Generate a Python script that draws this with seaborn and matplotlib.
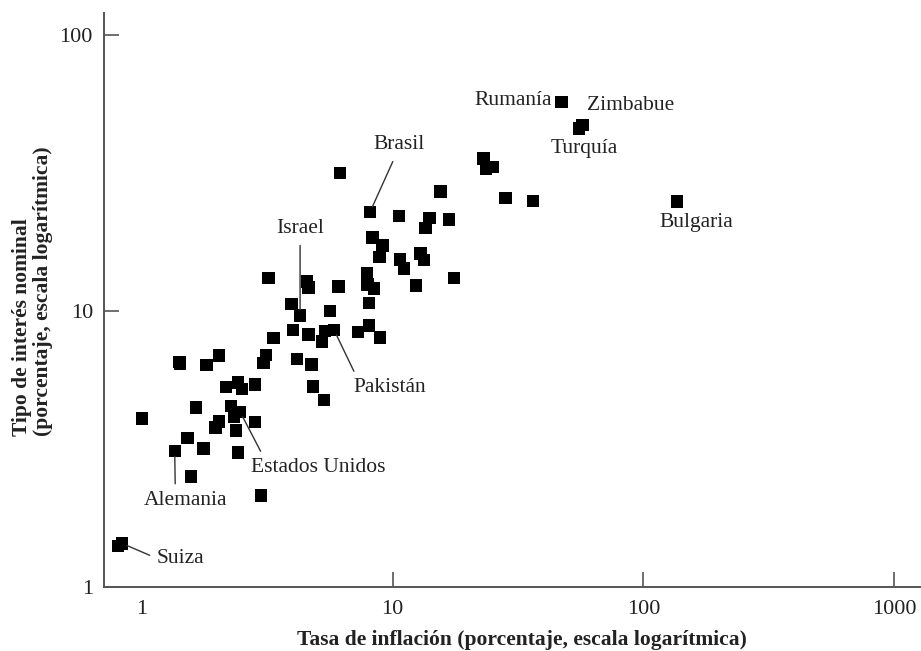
import matplotlib
matplotlib.use("Agg")
import matplotlib.pyplot as plt
import numpy as np
import pandas as pd
import seaborn as sns

# Inflation rate (%) and nominal interest rate (%), one entry per country
inflation = [0.80, 0.83, 1.00, 1.41, 1.42, 1.81, 2.03, 2.16, 2.42, 2.50,
             2.82, 1.64, 2.26, 2.46, 2.33, 2.03, 1.96, 2.37, 2.82, 1.52,
             1.35, 1.76, 2.42, 1.57, 2.98, 3.12, 3.05, 3.34, 4.14, 4.75,
             4.82, 5.32, 3.19, 4.56, 4.62, 6.07, 3.95, 4.27, 5.62, 4.01,
             4.62, 5.37, 5.21, 5.83, 7.25, 8.04, 8.90, 7.88, 7.92, 8.42,
             8.04, 8.32, 9.12, 8.84, 10.7, 11.1, 12.9, 13.3, 12.4, 17.6,
             6.16, 8.12, 10.6, 14.0, 13.5, 16.8, 15.5, 23.0, 25.0, 23.5,
             28.2, 36.2, 47.2, 57.1, 55.4, 136.0]
interest = [1.41, 1.44, 4.09, 6.53, 6.44, 6.39, 6.92, 5.30, 5.52, 5.23,
            5.42, 4.48, 4.54, 4.32, 4.15, 3.98, 3.79, 3.69, 3.97, 3.47,
            3.12, 3.18, 3.07, 2.52, 2.15, 6.94, 6.49, 8.01, 6.72, 6.40,
            5.33, 4.77, 13.2, 12.8, 12.2, 12.3, 10.6, 9.65, 10.0, 8.56,
            8.23, 8.46, 7.76, 8.56, 8.39, 8.87, 8.04, 13.7, 12.5, 12.1,
            10.7, 18.5, 17.3, 15.7, 15.4, 14.3, 16.2, 15.3, 12.4, 13.2,
            31.7, 22.9, 22.1, 21.8, 20.0, 21.5, 27.2, 35.8, 33.4, 32.9,
            25.7, 25.1, 57.3, 47.3, 46.0, 25.0]

# Labelled countries and the point they refer to
label_names = ["Suiza", "Alemania", "Estados Unidos", "Israel", "Pakistán",
               "Brasil", "Rumanía", "Zimbabue", "Turquía", "Bulgaria"]
label_points = [1, 20, 13, 37, 43, 61, 72, 73, 74, 75]

x_ticks = [1, 10, 100, 1000]
y_ticks = [1, 10, 100]

# text placement: (dx px, dy px, ha, va, leader relpos or None)
LABEL_STYLE = {
    "Suiza":          (35, -15, "left", "center", (0.0, 0.5)),
    "Alemania":       (11, -50, "center", "center", (0.375, 1.0)),
    "Estados Unidos": (78, -56, "center", "center", (0.10, 1.0)),
    "Israel":         (0, 87, "center", "center", (0.5, 0.0)),
    "Pakistán":       (56, -58, "center", "center", (0.05, 1.0)),
    "Brasil":         (29, 67, "center", "center", (0.44, 0.0)),
    "Rumanía":        (-10, 2, "right", "center", None),
    "Zimbabue":       (5, 20, "left", "center", None),
    "Turquía":        (5, -20, "center", "center", None),
    "Bulgaria":       (19, -21, "center", "center", None),
}

sns.set_style("ticks")
plt.rcParams["font.family"] = ["Liberation Serif", "DejaVu Serif"]

df = pd.DataFrame({"inflation": inflation, "interest": interest})

fig = plt.figure(figsize=(9.21, 6.51), dpi=100)
ax = fig.add_axes([104 / 921, 1 - 587 / 651, 816 / 921, 574 / 651])

sns.scatterplot(data=df, x="inflation", y="interest", marker="s", s=80,
                color="black", edgecolor="none", linewidth=0, ax=ax, zorder=3)

ax.set_xscale("log")
ax.set_yscale("log")
ax.set_xlim(0.705, 1269)
ax.set_ylim(1.0, 120.6)
ax.set_xticks(x_ticks)
ax.set_xticklabels([str(t) for t in x_ticks])
ax.set_yticks(y_ticks)
ax.set_yticklabels([str(t) for t in y_ticks])
ax.minorticks_off()

spine_col = "#555555"
for side in ["top", "right"]:
    ax.spines[side].set_visible(False)
for side in ["left", "bottom"]:
    ax.spines[side].set_color(spine_col)
    ax.spines[side].set_linewidth(1.4)
ax.tick_params(axis="both", direction="in", length=11, width=1.2,
               color=spine_col, labelsize=16, labelcolor="#222222")
ax.tick_params(axis="y", pad=8)
ax.tick_params(axis="x", pad=9)
ax.xaxis.get_major_ticks()[0].tick1line.set_visible(False)

ax.set_xlabel("Tasa de inflación (porcentaje, escala logarítmica)",
              fontsize=15.5, fontweight="bold", color="#222222")
ax.xaxis.set_label_coords(0.512, -0.092)
ax.xaxis.label.set_va("center")
ax.set_ylabel("Tipo de interés nominal\n(porcentaje, escala logarítmica)",
              fontsize=15.5, fontweight="bold", color="#222222",
              multialignment="left", linespacing=1.05)
ax.yaxis.set_label_coords(-0.088, 0.516)
ax.yaxis.label.set_va("center")

for name, idx in zip(label_names, label_points):
    dx, dy, ha, va, relpos = LABEL_STYLE[name]
    arrow = None
    if relpos is not None:
        arrow = dict(arrowstyle="-", color="#333333", lw=1.0,
                     relpos=relpos, shrinkA=3, shrinkB=4)
    ax.annotate(name, xy=(inflation[idx], interest[idx]), xytext=(dx, dy),
                textcoords="offset pixels", ha=ha, va=va, fontsize=15.5,
                color="#222222", arrowprops=arrow, zorder=4)

fig.savefig("out.png", dpi=100)
